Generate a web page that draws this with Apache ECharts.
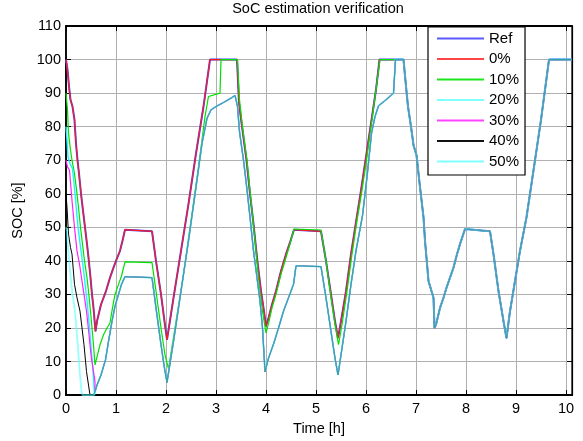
<!DOCTYPE html>
<html><head><meta charset="utf-8">
<script src="https://cdn.jsdelivr.net/npm/echarts/dist/echarts.min.js"></script>
<style>html,body{margin:0;padding:0;background:#fff}#c{width:583px;height:441px}</style>
</head><body><div id="c"></div>
<script>
// ---- data (time [h], SOC [%]) ----
const seriesNames = ['Ref', '0%', '10%', '20%', '30%', '40%', '50%'];
const xTicks = [0,1,2,3,4,5,6,7,8,9,10];
const yTicks = [0,10,20,30,40,50,60,70,80,90,100,110];

const refHead = [[0,100],[0.03,97],[0.06,92],[0.09,88],[0.13,86],[0.17,82],[0.2,75],[0.23,70],[0.26,66],[0.3,60],[0.34,55],[0.38,50],[0.42,45],[0.45,41],[0.49,35],[0.52,30],[0.55,26],[0.59,19],[0.62,22],[0.7,27],[0.8,31],[0.88,35],[0.95,38],[1.0,40],[1.08,43],[1.13,46],[1.18,49.3],[1.72,48.8],[1.8,40],[1.9,30],[1.97,22],[2.02,16.5],[2.15,29],[2.3,43],[2.45,57],[2.6,72],[2.75,86],[2.88,100],[3.42,100],[3.46,87],[3.52,80],[3.61,70],[3.68,60],[3.75,51],[3.82,41],[3.9,31],[3.96,25],[4.0,20.5],[4.05,23],[4.12,27],[4.2,31],[4.3,37],[4.4,42],[4.48,45.5],[4.56,49.3],[5.1,48.8],[5.2,40],[5.3,30],[5.38,22],[5.44,17],[5.5,22],[5.6,31],[5.7,42],[5.81,52.5],[5.9,61],[6.0,71],[6.1,81],[6.2,91],[6.27,100],[6.6,100]];

const greenHead = [[0,90],[0.03,85],[0.05,78],[0.09,73],[0.12,70],[0.17,66],[0.2,62.5],[0.25,56],[0.29,50],[0.33,45],[0.37,40],[0.42,35],[0.45,31],[0.49,25],[0.55,15],[0.58,9],[0.63,12],[0.68,15],[0.75,18],[0.82,20],[0.88,21.5],[0.93,26],[0.98,30],[1.05,33],[1.11,35.5],[1.18,39.7],[1.72,39.5],[1.8,31],[1.9,20],[1.98,12],[2.05,7.8],[2.2,22],[2.35,36],[2.5,52],[2.65,68],[2.78,83],[2.85,89],[3.08,90],[3.1,100],[3.43,100],[3.47,88],[3.53,80],[3.62,70],[3.7,58],[3.78,46],[3.86,33],[3.93,25],[4.0,18.5],[4.06,22],[4.12,26],[4.2,30],[4.3,36],[4.4,41],[4.48,45],[4.56,49.5],[5.1,49.2],[5.2,40],[5.3,29],[5.38,21],[5.45,15],[5.52,21],[5.62,31],[5.72,42],[5.82,52],[5.92,61],[6.02,71],[6.12,82],[6.2,91],[6.28,100],[6.6,100]];

const cyan20Head = [[0,80],[0.02,76],[0.04,71],[0.08,69],[0.13,67.5],[0.18,60],[0.24,50],[0.3,43],[0.36,36],[0.42,28],[0.47,20],[0.52,11],[0.55,5],[0.57,0]];
const magenta30Head = [[0,70],[0.03,68],[0.07,67],[0.12,58],[0.17,50],[0.22,43],[0.27,39],[0.31,35],[0.36,30],[0.41,25],[0.46,18],[0.5,12],[0.55,7],[0.58,4]];
const black40Head = [[0,60],[0.02,56],[0.05,48],[0.09,44],[0.12,42],[0.17,33],[0.22,29],[0.28,25],[0.32,20],[0.36,15],[0.41,7],[0.45,3],[0.48,0],[0.55,0]];
const cyan50Head = [[0,50],[0.02,49],[0.04,44],[0.08,37],[0.13,30],[0.18,25],[0.22,18],[0.25,12],[0.28,6],[0.31,1],[0.33,0],[0.55,0]];

const lowGroup = [[0.58,1],[0.62,3],[0.7,6],[0.79,10.5],[0.85,16],[0.92,22],[0.98,26.5],[1.05,30],[1.11,33],[1.18,35.3],[1.72,35],[1.8,26],[1.9,15],[1.97,8],[2.02,3.8],[2.15,16],[2.3,31],[2.45,46],[2.6,62],[2.72,75],[2.82,82.5],[2.9,85],[3.0,86],[3.15,87.2],[3.3,88.5],[3.38,89.3],[3.43,86],[3.47,78.5],[3.55,70],[3.61,62.5],[3.68,53],[3.75,43],[3.82,35],[3.88,28],[3.93,20],[3.98,7],[4.05,11],[4.15,15.2],[4.25,20],[4.35,25],[4.45,29],[4.55,33],[4.6,38.5],[5.1,38.3],[5.2,29],[5.3,19],[5.38,11],[5.44,6],[5.5,12],[5.6,22],[5.7,33],[5.8,43],[5.93,53.5],[6.02,65],[6.11,78],[6.18,83],[6.25,86.2],[6.4,88],[6.55,90],[6.59,100],[6.6,100]];

const commonTail = [[6.6,100],[6.75,100],[6.8,92],[6.84,86],[6.9,80],[6.95,74.5],[7.01,71.5],[7.08,62],[7.15,53],[7.18,46],[7.25,34],[7.35,29],[7.37,20],[7.4,21],[7.48,26],[7.55,29],[7.61,32],[7.68,35],[7.75,38],[7.82,42],[7.88,45],[7.98,49.5],[8.48,48.8],[8.55,42],[8.65,31],[8.75,22],[8.81,17],[8.88,25],[8.98,34],[9.08,43],[9.21,53],[9.35,67],[9.5,82],[9.66,100],[10.12,100]];

const seriesData = [
  refHead.concat(commonTail),
  refHead.concat(commonTail),
  greenHead.concat(commonTail),
  cyan20Head.concat(lowGroup, commonTail),
  magenta30Head.concat(lowGroup, commonTail),
  black40Head.concat(lowGroup, commonTail),
  cyan50Head.concat(lowGroup, commonTail)
];
const seriesColors = ['#4545ff', '#ff1a1a', '#00e000', '#22f2ff', '#ff22ff', '#000000', '#55ffff'];
const seriesWidths = [2, 1.2, 1.2, 1.4, 1.2, 1, 1.8];
const seriesOpacity = [1, 1, 1, 1, 1, 1, 0.62];
const legendColors = ['#5a5aff', '#ff4545', '#1ee61e', '#80ffff', '#ff44ff', '#111111', '#80ffff'];

const FONT = '"Liberation Sans", Arial, Helvetica, sans-serif';
const chart = echarts.init(document.getElementById('c'), null, {renderer: 'canvas'});
const xLabel = v => (Number.isInteger(v) && xTicks.indexOf(v) >= 0) ? String(v) : '';
const gridLine = {show: true, lineStyle: {color: '#b0b0b0', width: 1}};
chart.setOption({
  animation: false,
  backgroundColor: '#fff',
  title: {text: 'SoC estimation verification', left: 318, top: 1, textAlign: 'center', padding: 0,
    textStyle: {fontFamily: FONT, fontSize: 14.5, fontWeight: 'normal', color: '#000'}},
  grid: {left: 66, right: 11, top: 26, bottom: 43, show: true, borderColor: '#000', borderWidth: 1.2, backgroundColor: '#fff'},
  legend: {
    orient: 'vertical', left: 428, top: 27, padding: [4, 6, 6, 9], itemWidth: 47, itemHeight: 2, itemGap: 5.5,
    backgroundColor: '#fff', borderColor: '#000', borderWidth: 1.2,
    textStyle: {fontFamily: FONT, fontSize: 15, color: '#000', lineHeight: 14},
    data: seriesNames.map((n, i) => ({name: n, icon: 'rect', itemStyle: {color: legendColors[i], opacity: 1}}))
  },
  xAxis: [
    {type: 'value', min: 0, max: 10.12, interval: 1, position: 'bottom',
      name: 'Time [h]', nameLocation: 'middle', nameGap: 23,
      nameTextStyle: {fontFamily: FONT, fontSize: 14.5, color: '#000'},
      axisLine: {show: true, onZero: false, lineStyle: {color: '#000', width: 1.8}},
      axisTick: {show: true, inside: true, length: 5, lineStyle: {color: '#000'}},
      axisLabel: {formatter: xLabel, fontFamily: FONT, fontSize: 14.5, color: '#000', margin: 6, showMaxLabel: true},
      splitLine: gridLine},
    {type: 'value', min: 0, max: 10.12, interval: 1, position: 'top',
      axisLine: {show: true, onZero: false, lineStyle: {color: '#000', width: 1.8}},
      axisTick: {show: true, inside: true, length: 5, lineStyle: {color: '#000'}},
      axisLabel: {show: false}, splitLine: {show: false}}
  ],
  yAxis: [
    {type: 'value', min: 0, max: 110, interval: 10, position: 'left',
      name: 'SOC [%]', nameLocation: 'middle', nameGap: 37, nameRotate: 90,
      nameTextStyle: {fontFamily: FONT, fontSize: 14.5, color: '#000'},
      axisLine: {show: true, onZero: false, lineStyle: {color: '#000', width: 1.8}},
      axisTick: {show: true, inside: true, length: 5, lineStyle: {color: '#000'}},
      axisLabel: {fontFamily: FONT, fontSize: 14.5, color: '#000', margin: 5,
        formatter: v => (yTicks.indexOf(v) >= 0 ? String(v) : '')},
      splitLine: gridLine},
    {type: 'value', min: 0, max: 110, interval: 10, position: 'right',
      axisLine: {show: true, onZero: false, lineStyle: {color: '#000', width: 1.2}},
      axisTick: {show: true, inside: true, length: 5, lineStyle: {color: '#000'}},
      axisLabel: {show: false}, splitLine: {show: false}}
  ],
  series: seriesNames.map((n, i) => ({
    name: n, type: 'line', xAxisIndex: 0, yAxisIndex: 0, symbol: 'none', showSymbol: false,
    data: seriesData[i], clip: true, z: 2 + i,
    lineStyle: {color: seriesColors[i], width: seriesWidths[i], opacity: seriesOpacity[i]},
    itemStyle: {color: seriesColors[i]}
  }))
});
</script></body></html>
